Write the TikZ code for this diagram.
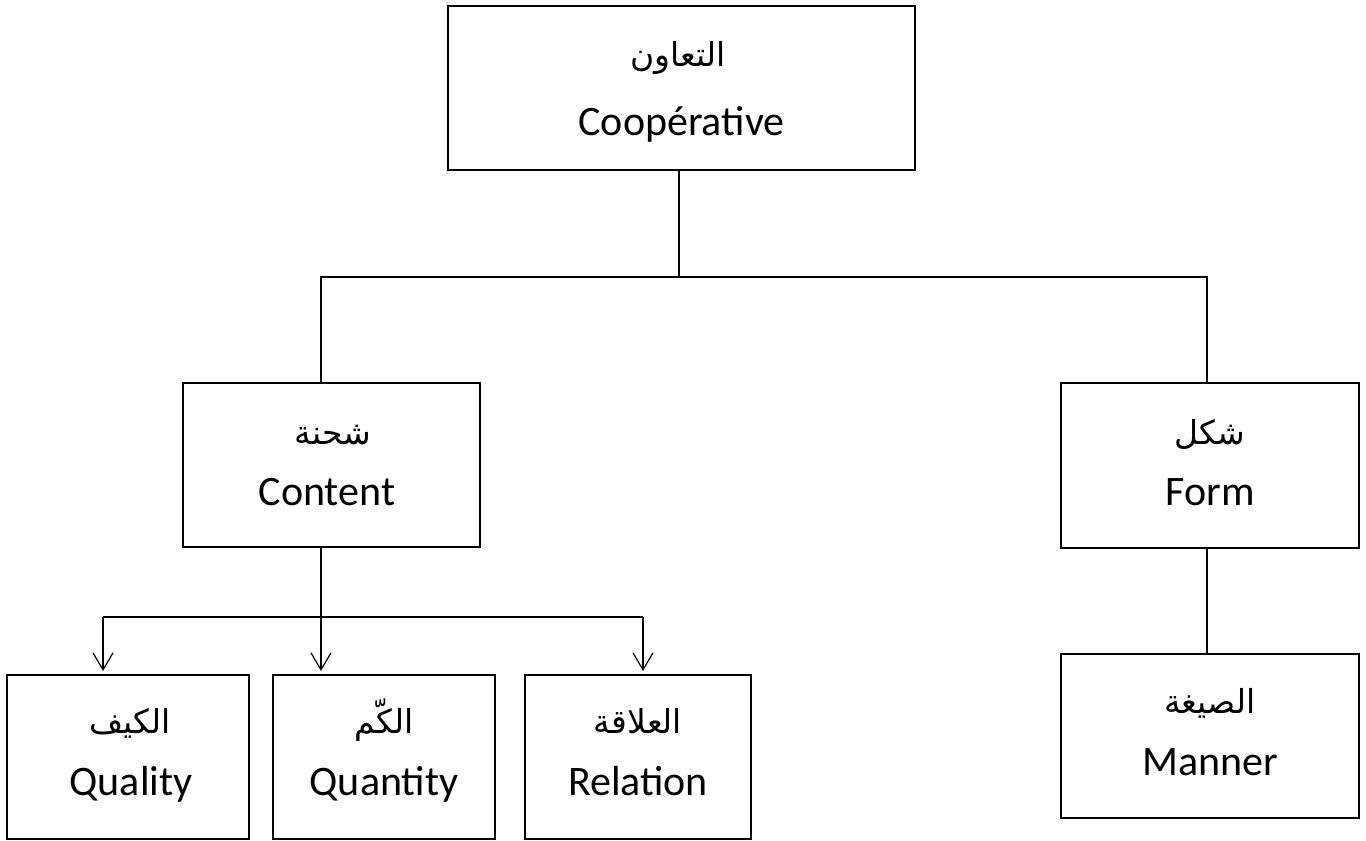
\documentclass[tikz,border=0pt]{standalone}
\usepackage{fontspec}
\setmainfont{Carlito}
\newfontfamily\arabicfont[Script=Arabic]{DejaVu Sans}
\TeXXeTstate=1
\usetikzlibrary{arrows.meta}
\begin{document}
\begin{tikzpicture}[x=1pt,y=-1pt,
  box/.style={draw, line width=1.3pt, rectangle, inner sep=0pt, outer sep=0pt},
  lat/.style={anchor=base, inner sep=0pt, font=\fontsize{42}{46}\selectfont},
  ara/.style={anchor=base, inner sep=0pt, font=\arabicfont\fontsize{33}{37}\selectfont},
  conn/.style={line width=1.3pt},
  arr/.style={conn, -{Straight Barb[length=17pt,width=20pt,line width=1.2pt]}, shorten >=4pt}]
\useasboundingbox (0,0) rectangle (1366,841);
% boxes
\node[box, minimum width=467pt, minimum height=164pt] (top) at (681.5,88) {};
\node[box, minimum width=297pt, minimum height=164pt] (content) at (331.5,465) {};
\node[box, minimum width=298pt, minimum height=165pt] (form) at (1210,465.5) {};
\node[box, minimum width=298pt, minimum height=164pt] (manner) at (1210,736) {};
\node[box, minimum width=242pt, minimum height=164pt] (quality) at (128,757) {};
\node[box, minimum width=222pt, minimum height=164pt] (quantity) at (384,757) {};
\node[box, minimum width=226pt, minimum height=164pt] (relation) at (638,757) {};
% texts
\node[ara] (topA) at (678,66) {\beginR التعاون\endR};
\node[lat] (topL) at (681.5,135) {Coopérative};
\node[ara] (contentA) at (333,444) {\beginR شحنة\endR};
\node[lat] (contentL) at (327,505) {Content};
\node[ara] (formA) at (1210,444) {\beginR شكل\endR};
\node[lat] (formL) at (1210,505) {Form};
\node[ara] (mannerA) at (1210,713) {\beginR الصيغة\endR};
\node[lat] (mannerL) at (1210,775) {Manner};
\node[ara] (qualityA) at (130,733) {\beginR الكيف\endR};
\node[lat] (qualityL) at (131,795) {Quality};
\node[ara] (quantityA) at (384,733) {\beginR الكّم\endR};
\node[lat] (quantityL) at (384,795) {Quantity};
\node[ara] (relationA) at (638,733) {\beginR العلاقة\endR};
\node[lat] (relationL) at (638,795) {Relation};
% junction coordinates
\coordinate (hub1) at (679,277);
\coordinate (jl) at (321,277);
\coordinate (jr) at (1207,277);
\coordinate (hub2) at (321,617);
\coordinate (ql) at (103,617);
\coordinate (rl) at (643,617);
% connectors
\draw[conn] (top.south -| hub1) -- (hub1);
\draw[conn] (content.north -| jl) -- (jl) -- (jr) -- (form.north -| jr);
\draw[conn] (form.south -| jr) -- (manner.north -| jr);
\draw[conn] (content.south -| hub2) -- (hub2);
\draw[conn] (ql) -- (rl);
\draw[arr] (ql) -- (quality.north -| ql);
\draw[arr] (hub2) -- (quantity.north -| hub2);
\draw[arr] (rl) -- (relation.north -| rl);
\end{tikzpicture}
\end{document}
